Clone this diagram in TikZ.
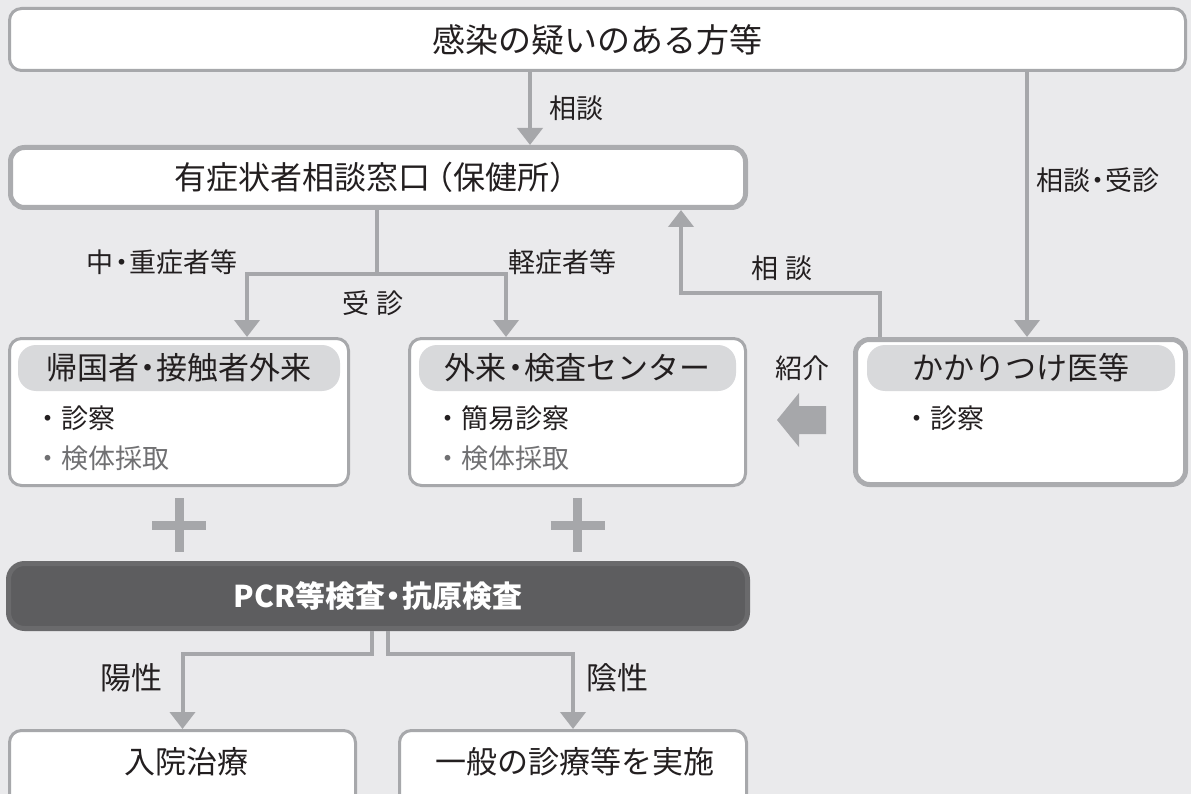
\documentclass[tikz,border=0pt]{standalone}
\usepackage{fontspec}
\setmainfont{Noto Sans CJK JP}
\usetikzlibrary{arrows.meta}
\definecolor{bgc}{HTML}{EAEAEC}
\definecolor{bordc}{HTML}{A7A8AB}
\definecolor{bordcb}{HTML}{ABACAF}
\definecolor{headc}{HTML}{D8D9DB}
\definecolor{arrc}{HTML}{A6A7AA}
\definecolor{pcrfill}{HTML}{5D5D5F}
\definecolor{pcrdraw}{HTML}{6A6A6C}
\definecolor{txt}{HTML}{231F20}
\definecolor{greytxt}{HTML}{707072}
\newcommand\myfs[1]{\fontsize{#1}{#1}\selectfont}
\newcommand\nd{\hspace{-0.22em}・\hspace{-0.22em}}
\tikzset{
  box/.style={draw=bordc, fill=white, line width=3pt, rounded corners=12pt, inner sep=0pt, text=txt},
  thickbox/.style={box, draw=bordcb, line width=5pt, rounded corners=14pt},
  head/.style={fill=headc, rounded corners=18pt, inner sep=0pt, minimum height=46pt, text=txt, font=\myfs{31}},
  conn/.style={draw=arrc, line width=4pt},
  arr/.style={conn, -{Triangle[width=25pt,length=17pt]}},
  lab/.style={inner sep=0pt, text=txt, font=\myfs{27}},
  biglab/.style={inner sep=0pt, text=txt, font=\myfs{31}},
  bul/.style={inner sep=0pt, anchor=west, text=txt, font=\myfs{27}},
  plus/.style={draw=arrc, line width=9pt},
}
\begin{document}
\begin{tikzpicture}[x=1pt,y=-1pt]
\fill[bgc] (0,0) rectangle (1191,794);
\useasboundingbox (0,0) rectangle (1191,794);

% boxes
\node[box, minimum width=1176pt, minimum height=62pt, font=\myfs{33}] (top) at (597.5,39.5) {感染の疑いのある方等};
\node[thickbox, minimum width=735pt, minimum height=60pt, font=\myfs{32}] (soudan) at (378,177.5) {有症状者相談窓口\hspace{-0.3em}（保健所）\hspace{-0.3em}};

\node[box, minimum width=339pt, minimum height=147pt] (kikoku) at (179,412) {};
\node[head, minimum width=322pt] (kikokuh) at (179,368) {帰国者\nd 接触者外来};
\node[bul] (kb1) at (34,418) {・診察};
\node[bul, text=greytxt] (kb2) at (34,458) {・検体採取};

\node[box, minimum width=336pt, minimum height=147pt] (gairai) at (577.5,412) {};
\node[head, minimum width=317pt] (gairaih) at (577.5,368) {外来\nd 検査センター};
\node[bul] (gb1) at (434,418) {・簡易診察};
\node[bul, text=greytxt] (gb2) at (434,458) {・検体採取};

\node[thickbox, minimum width=330pt, minimum height=145pt] (kakari) at (1020.5,412) {};
\node[head, minimum width=308pt] (kakarih) at (1021,368) {かかりつけ医等};
\node[bul] (kab1) at (903.5,418) {・診察};

\node[draw=pcrdraw, fill=pcrfill, line width=5pt, rounded corners=16pt, inner sep=0pt,
      minimum width=739pt, minimum height=65pt, text=white, font=\myfs{30}\bfseries] (pcr) at (378,596) {PCR等検査\nd 抗原検査};

\node[box, minimum width=346pt, minimum height=90pt] (nyuin) at (182.5,775.5) {};
\node[biglab] (nyuint) at (186,762) {入院治療};
\node[box, minimum width=347pt, minimum height=90pt] (ippan) at (573,775.5) {};
\node[biglab] (ippant) at (575,762) {一般の診療等を実施};

% connectors
\coordinate (c1) at (530,0);
\draw[arr] (top.south -| c1) -- (soudan.north -| c1);
\coordinate (rx) at (1027,0);
\draw[arr] (top.south -| rx) -- (kakari.north -| rx);
\coordinate (kx) at (880,0);
\coordinate (m1) at (681,293);
\draw[arr] (kakari.north -| kx) |- (m1) -- (soudan.south -| m1);

\coordinate (j) at (377,274);
\coordinate (la) at (247,274);
\coordinate (ra) at (506,274);
\draw[arr] (soudan.south -| j) -- (j) -- (la) -- (kikoku.north -| la);
\draw[arr] (j) -- (ra) -- (gairai.north -| ra);

\coordinate (pl) at (372,654);
\coordinate (pr) at (388,654);
\draw[arr] (pcr.south -| pl) -- (pl) -| (nyuin.north);
\draw[arr] (pcr.south -| pr) -- (pr) -| (ippan.north);

% fat arrow (kakari -> gairai)
\fill[arrc] (826,406) -- (799,406) -- (799,393) -- (777,420) -- (799,447) -- (799,434) -- (826,434) -- cycle;

% plus signs
\draw[plus] (152,525) -- (206,525);
\draw[plus] (179,498) -- (179,552);
\draw[plus] (550.5,525) -- (604.5,525);
\draw[plus] (577.5,498) -- (577.5,552);

% labels
\node[lab] (l1) at (576,108) {相談};
\node[lab] (l2) at (1098,180) {相談\nd 受診};
\node[lab] (l3) at (782,268) {相 談};
\node[lab] (l4) at (162,262) {中\nd 重症者等};
\node[lab] (l5) at (562,262) {軽症者等};
\node[lab] (l6) at (373,303) {受 診};
\node[lab] (l7) at (802,368) {紹介};
\node[biglab] (l8) at (131,678) {陽性};
\node[biglab] (l9) at (617,678) {陰性};
\end{tikzpicture}
\end{document}
